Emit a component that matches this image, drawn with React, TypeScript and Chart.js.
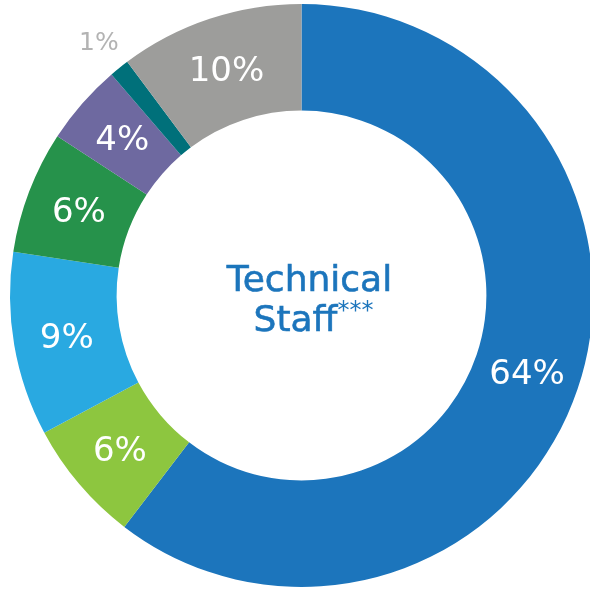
import React, { useEffect, useRef } from "react";
import { Chart, registerables } from "chart.js";

Chart.register(...registerables);

const categories = ["Segment A", "Segment B", "Segment C", "Segment D", "Segment E", "Segment F", "Segment G"];
const values = [60.4, 6.8, 10.2, 6.8, 4.5, 1.1, 10.2];
const valueLabels = ["64%", "6%", "9%", "6%", "4%", "1%", "10%"];
const colors = ["#1c75bc", "#8dc63f", "#29a9e1", "#26924b", "#6e69a0", "#00707a", "#9d9d9b"];
const outsideLabels = [false, false, false, false, false, true, false];
const centerLines = ["Technical", "Staff"];
const centerSuffix = "***";

const FONT = "'DejaVu Sans', sans-serif";

const labelPlugin = {
  id: "sliceLabels",
  afterDatasetsDraw(chart: any) {
    const ctx = chart.ctx;
    const meta = chart.getDatasetMeta(0);
    ctx.save();
    ctx.textAlign = "center";
    ctx.textBaseline = "middle";
    meta.data.forEach((arc: any, i: number) => {
      const p = arc.getProps(["x", "y", "startAngle", "endAngle", "outerRadius", "innerRadius"], true);
      if (outsideLabels[i]) {
        const mid = (p.startAngle + p.endAngle) / 2;
        const r = p.outerRadius + 31;
        ctx.fillStyle = "#b3b3b3";
        ctx.font = `400 25px ${FONT}`;
        ctx.fillText(valueLabels[i], p.x + Math.cos(mid) * r - 1, p.y + Math.sin(mid) * r);
      } else {
        const pos = arc.tooltipPosition(true);
        ctx.fillStyle = "#ffffff";
        ctx.font = `400 34px ${FONT}`;
        ctx.fillText(valueLabels[i], pos.x, pos.y + 3);
      }
    });
    // center text
    const cx = meta.data[0].x;
    const cy = meta.data[0].y;
    ctx.fillStyle = "#1c75bc";
    ctx.strokeStyle = "#1c75bc";
    ctx.lineWidth = 0.6;
    ctx.font = `400 36px ${FONT}`;
    ctx.textAlign = "center";
    ctx.fillText(centerLines[0], cx + 8, cy - 14);
    ctx.strokeText(centerLines[0], cx + 8, cy - 14);
    const w1 = ctx.measureText(centerLines[1]).width;
    ctx.font = `400 24px ${FONT}`;
    const w2 = ctx.measureText(centerSuffix).width;
    const startX = cx + 12 - (w1 + w2) / 2;
    ctx.textAlign = "left";
    ctx.font = `400 36px ${FONT}`;
    ctx.fillText(centerLines[1], startX, cy + 26);
    ctx.strokeText(centerLines[1], startX, cy + 26);
    ctx.font = `400 24px ${FONT}`;
    ctx.fillText(centerSuffix, startX + w1, cy + 16);
    ctx.restore();
  },
};

export default function App() {
  const ref = useRef<HTMLCanvasElement>(null);
  useEffect(() => {
    if (!ref.current) return;
    const chart = new Chart(ref.current, {
      type: "doughnut",
      data: {
        labels: categories,
        datasets: [
          {
            data: values,
            backgroundColor: colors,
            borderWidth: 0,
            radius: 291.5,
            cutout: 183,
            clip: false,
          } as any,
        ],
      },
      options: {
        responsive: false,
        animation: false,
        layout: { padding: { left: 13, right: 0, top: 0, bottom: 1 } },
        plugins: { legend: { display: false }, tooltip: { enabled: false } },
        events: [],
      },
      plugins: [labelPlugin],
    });
    return () => chart.destroy();
  }, []);
  return (
    <div style={{ position: "fixed", left: 0, top: 0, width: 590, height: 592, background: "#fff" }}>
      <canvas ref={ref} width={590} height={592} style={{ display: "block", width: 590, height: 592 }} />
    </div>
  );
}
